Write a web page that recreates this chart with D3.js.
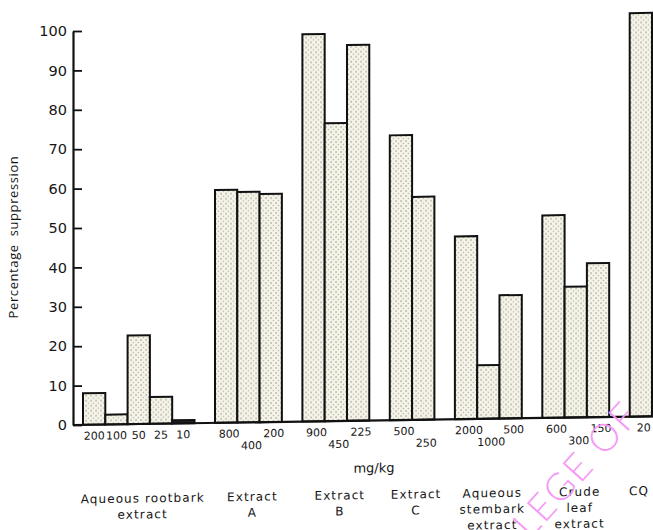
<!DOCTYPE html>
<html>
<head>
<meta charset="utf-8">
<script src="https://cdn.jsdelivr.net/npm/d3@7"></script>
<style>
  body { margin: 0; background: #fff; }
  text { font-family: "DejaVu Sans", sans-serif; fill: #161616; }
</style>
</head>
<body>
<script>
(function (d3) {
  "use strict";

  /***** Data *****/
  var groupLabels = [
    ["Aqueous rootbark", "extract"],
    ["Extract", "A"],
    ["Extract", "B"],
    ["Extract", "C"],
    ["Aqueous", "stembark", "extract"],
    ["Crude", "leaf", "extract"],
    ["CQ"]
  ];
  var doses = [
    [200, 100, 50, 25, 10],
    [800, 400, 200],
    [900, 450, 225],
    [500, 250],
    [2000, 1000, 500],
    [600, 300, 150],
    [20]
  ];
  var suppression = [
    [8, 2.5, 22.5, 6.8, 0.8],
    [59.1, 58.5, 57.9],
    [98.3, 75.6, 95.4],
    [72.3, 56.6],
    [46.4, 13.6, 31.3],
    [51.4, 33.2, 39.1],
    [102.4]
  ];
  // dose labels of the middle bars drop to a second row
  var staggered = [false, true, true, true, true, true, false];
  var yTicks = d3.range(0, 101, 10);
  var xTitle = "mg/kg";
  var yTitle = "Percentage  suppression";

  /***** Configuration *****/
  var width = 653, height = 530;
  var axisX = 73;
  var groupGap = 0.92;   // gap between groups, in bar widths
  var skew = -0.86;      // the scanned figure leans a little

  var bars = [];
  var slot = 0;
  suppression.forEach(function (vals, g) {
    vals.forEach(function (v, i) {
      bars.push({ group: g, index: i, dose: doses[g][i], value: v, pos: slot + g * groupGap });
      slot += 1;
    });
  });
  var totalUnits = slot + (suppression.length - 1) * groupGap;

  /***** Scales *****/
  var x = d3.scaleLinear().domain([0, totalUnits]).range([83, 652]);
  var y = d3.scaleLinear().domain([0, 100]).range([425, 31]);

  /***** Svg *****/
  var svg = d3.select("body").append("svg")
    .attr("width", width)
    .attr("height", height);

  var defs = svg.append("defs");
  var pat = defs.append("pattern")
    .attr("id", "stipple")
    .attr("patternUnits", "userSpaceOnUse")
    .attr("width", 5)
    .attr("height", 5);
  pat.append("rect").attr("width", 5).attr("height", 5).attr("fill", "#f6f4e8");
  pat.append("circle").attr("cx", 1).attr("cy", 1).attr("r", 0.75).attr("fill", "#8c8c84");
  pat.append("circle").attr("cx", 3.5).attr("cy", 3.5).attr("r", 0.65).attr("fill", "#a5a59c");

  /***** Y axis *****/
  var yAxis = d3.axisLeft(y)
    .tickValues(yTicks)
    .tickSize(-9)
    .tickSizeOuter(0)
    .tickPadding(6);

  var yAxisG = svg.append("g")
    .attr("transform", "translate(" + axisX + ",0)")
    .call(yAxis);
  yAxisG.select(".domain").attr("stroke", "#111").attr("stroke-width", 2.2);
  yAxisG.selectAll(".tick line").attr("stroke", "#111").attr("stroke-width", 1.8);
  yAxisG.selectAll(".tick text")
    .attr("font-size", 14.5)
    .attr("font-family", "DejaVu Sans, sans-serif")
    .attr("fill", "#161616");

  svg.append("text")
    .attr("transform", "translate(18,237) rotate(-90)")
    .attr("text-anchor", "middle")
    .attr("font-size", 13)
    .attr("letter-spacing", 0.6)
    .style("font-family", "'Open Sans', sans-serif")
    .style("white-space", "pre")
    .text(yTitle);

  /***** Plot (skewed like the scan) *****/
  var plot = svg.append("g")
    .attr("transform", "translate(" + axisX + "," + y(0) + ") skewY(" + skew + ") translate(" + (-axisX) + "," + (-y(0)) + ")");

  plot.selectAll("rect.bar")
    .data(bars)
    .enter().append("rect")
    .attr("class", "bar")
    .attr("x", function (d) { return x(d.pos); })
    .attr("width", function (d) { return x(d.pos + 1) - x(d.pos); })
    .attr("y", function (d) { return y(d.value); })
    .attr("height", function (d) { return y(0) - y(d.value); })
    .attr("fill", function (d) { return d.value < 1.5 ? "#222" : "url(#stipple)"; })
    .attr("stroke", "#111")
    .attr("stroke-width", 2);

  plot.append("line")
    .attr("x1", axisX).attr("x2", width + 5)
    .attr("y1", y(0)).attr("y2", y(0))
    .attr("stroke", "#111")
    .attr("stroke-width", 2.2);

  // dose tick labels
  plot.selectAll("text.dose")
    .data(bars)
    .enter().append("text")
    .attr("class", "dose")
    .attr("x", function (d) { return x(d.pos + 0.5) + (d.group === 0 ? 0 : 3); })
    .attr("y", function (d) { return staggered[d.group] && d.index % 2 === 1 ? 452 : 440; })
    .attr("text-anchor", "middle")
    .attr("font-size", 11)
    .text(function (d) { return d.dose; });

  plot.append("text")
    .attr("x", 374)
    .attr("y", 477)
    .attr("text-anchor", "middle")
    .attr("font-size", 13)
    .text(xTitle);

  // group labels
  var groupG = plot.selectAll("g.grp")
    .data(groupLabels)
    .enter().append("g")
    .attr("class", "grp");

  groupG.each(function (lines, g) {
    var gb = bars.filter(function (b) { return b.group === g; });
    var cx = Math.min((x(gb[0].pos) + x(gb[gb.length - 1].pos + 1)) / 2 + 4, width - 14);
    d3.select(this).selectAll("text")
      .data(lines)
      .enter().append("text")
      .attr("x", cx)
      .attr("y", function (d, i) { return 503.5 + i * 16; })
      .attr("text-anchor", "middle")
      .attr("font-size", 12)
      .attr("letter-spacing", 1.1)
      .text(function (d) { return d; });
  });

  /***** Watermark *****/
  svg.append("text")
    .attr("transform", "translate(530,540) rotate(-48)")
    .attr("font-size", 38)
    .attr("letter-spacing", 2)
    .style("font-family", "Lato, sans-serif")
    .style("font-weight", 300)
    .style("fill", "#f59af5")
    .text("LEGE OF");

})(d3);
</script>
</body>
</html>
